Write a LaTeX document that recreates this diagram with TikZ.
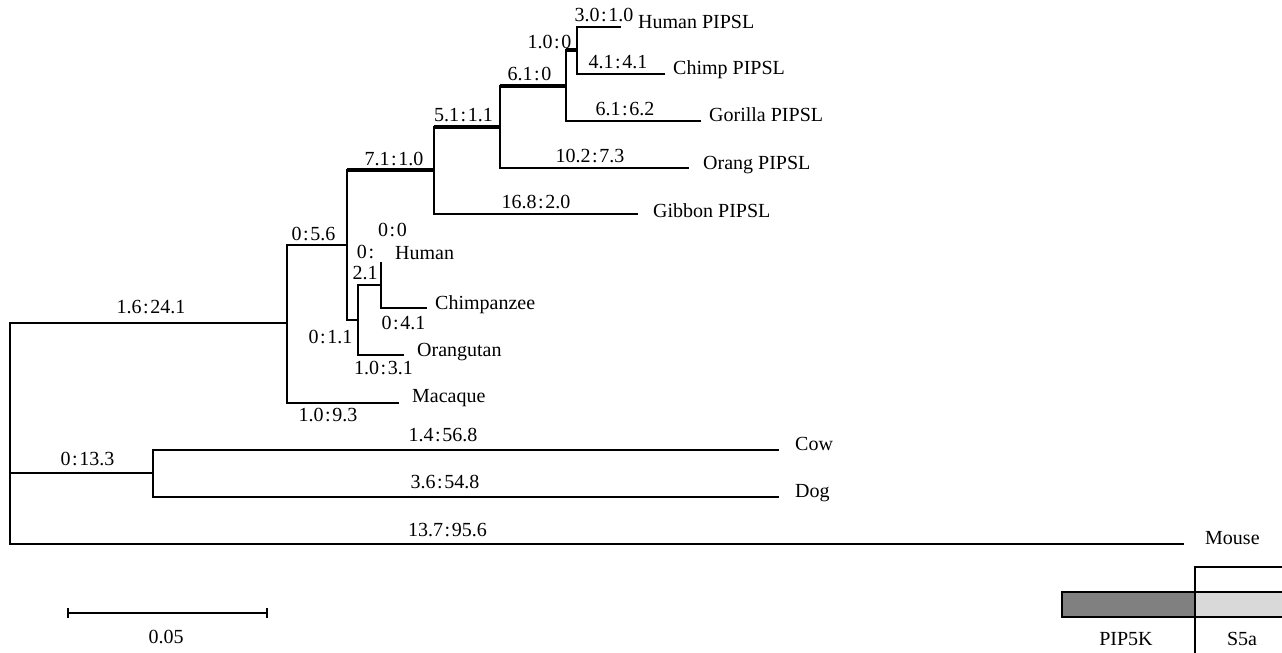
\documentclass[tikz,border=0pt]{standalone}
\usepackage{fontspec}
\setmainfont{Liberation Serif}
\newcommand{\rt}[2]{#1\kern1.6pt:\kern1.6pt#2}
\begin{document}
\begin{tikzpicture}[x=1pt,y=-1pt,
  br/.style={line width=1.5pt,line cap=rect},
  rootbr/.style={line width=2.1pt,line cap=rect},
  thickbr/.style={line width=4pt},
  lab/.style={inner sep=0pt,anchor=base,font=\fontsize{20}{24}\selectfont},
  taxon/.style={inner sep=0pt,anchor=base west,font=\fontsize{20}{24}\selectfont}]
\useasboundingbox (0,0) rectangle (1282,653);
% internal nodes and tips
\coordinate (R) at (10,323);
\coordinate (Pr) at (287,323);
\coordinate (CD) at (153,473);
\coordinate (MouseE) at (1183,544);
\coordinate (CowE) at (778,450);
\coordinate (DogE) at (778,497);
\coordinate (MacE) at (398,403);
\coordinate (A) at (347,245);
\coordinate (B) at (358,320);
\coordinate (C) at (381,285);
\coordinate (HumE) at (381,262);
\coordinate (ChzE) at (426,308);
\coordinate (OrgE) at (403,355);
\coordinate (P1) at (434,170);
\coordinate (GibE) at (637,214);
\coordinate (P2) at (500,127);
\coordinate (OrpE) at (688,168);
\coordinate (P3) at (566,86);
\coordinate (GorE) at (700,121);
\coordinate (P4) at (577,50);
\coordinate (HupE) at (620,27);
\coordinate (ChpE) at (664,74);
% root level
\draw[rootbr] (R |- Pr) -- (R |- MouseE);
\draw[rootbr] (R |- Pr) -- (Pr);
\draw[rootbr] (R |- CD) -- (CD);
\draw[rootbr] (R |- MouseE) -- (MouseE);
% cow / dog
\draw[br] (CD |- CowE) -- (CD |- DogE);
\draw[br] (CD |- CowE) -- (CowE);
\draw[br] (CD |- DogE) -- (DogE);
% primates
\draw[br] (Pr |- A) -- (Pr |- MacE);
\draw[br] (Pr |- A) -- (A);
\draw[br] (Pr |- MacE) -- (MacE);
\draw[br] (A |- P1) -- (A |- B);
\draw[br] (A |- B) -- (B);
\draw[br] (B |- C) -- (B |- OrgE);
\draw[br] (B |- C) -- (C);
\draw[br] (B |- OrgE) -- (OrgE);
\draw[line width=2.4pt] (HumE) -- (C);
\draw[br] (C) -- (C |- ChzE);
\draw[br] (C |- ChzE) -- (ChzE);
% PIPSL clade
\draw[thickbr] (A |- P1) -- (P1);
\draw[br] (P1 |- P2) -- (P1 |- GibE);
\draw[br] (P1 |- GibE) -- (GibE);
\draw[thickbr] (P1 |- P2) -- (P2);
\draw[br] (P2 |- P3) -- (P2 |- OrpE);
\draw[br] (P2 |- OrpE) -- (OrpE);
\draw[thickbr] (P2 |- P3) -- (P3);
\draw[br] (P3 |- P4) -- (P3 |- GorE);
\draw[br] (P3 |- GorE) -- (GorE);
\draw[thickbr] (P3 |- P4) -- (P4);
\draw[br] (P4 |- HupE) -- (P4 |- ChpE);
\draw[br] (P4 |- HupE) -- (HupE);
\draw[br] (P4 |- ChpE) -- (ChpE);
% branch labels
\node[lab] (l1) at (604,21) {\rt{3.0}{1.0}};
\node[lab] (l2) at (549.5,48) {\rt{1.0}{0}};
\node[lab] (l3) at (618,68) {\rt{4.1}{4.1}};
\node[lab] (l4) at (529.5,80) {\rt{6.1}{0}};
\node[lab] (l5) at (625,115) {\rt{6.1}{6.2}};
\node[lab] (l6) at (463.5,121) {\rt{5.1}{1.1}};
\node[lab] (l7) at (590,162) {\rt{10.2}{7.3}};
\node[lab] (l8) at (394,165) {\rt{7.1}{1.0}};
\node[lab] (l9) at (536,208) {\rt{16.8}{2.0}};
\node[lab] (l10) at (313.5,240) {\rt{0}{5.6}};
\node[lab] (l11) at (392.5,236) {\rt{0}{0}};
\node[lab] (l12) at (365.5,258) {0\kern1.6pt:};
\node[lab] (l13) at (365,279) {2.1};
\node[lab] (l14) at (403.5,329) {\rt{0}{4.1}};
\node[lab] (l15) at (330.5,343) {\rt{0}{1.1}};
\node[lab] (l16) at (383.5,374) {\rt{1.0}{3.1}};
\node[lab] (l17) at (328,421) {\rt{1.0}{9.3}};
\node[lab] (l18) at (151,313) {\rt{1.6}{24.1}};
\node[lab] (l19) at (87.5,465) {\rt{0}{13.3}};
\node[lab] (l20) at (443,441) {\rt{1.4}{56.8}};
\node[lab] (l21) at (445,488) {\rt{3.6}{54.8}};
\node[lab] (l22) at (447.5,536) {\rt{13.7}{95.6}};
% taxa
\node[taxon] (tHP) at (638,28) {Human PIPSL};
\node[taxon] (tCP) at (673,74) {Chimp PIPSL};
\node[taxon] (tGP) at (709,121) {Gorilla PIPSL};
\node[taxon] (tOP) at (703,169) {Orang PIPSL};
\node[taxon] (tBP) at (653,217) {Gibbon PIPSL};
\node[taxon] (tH) at (395,259) {Human};
\node[taxon] (tC) at (435,309) {Chimpanzee};
\node[taxon] (tO) at (417,356) {Orangutan};
\node[taxon] (tM) at (412,402) {Macaque};
\node[taxon] (tCow) at (795,450) {Cow};
\node[taxon] (tDog) at (795,497) {Dog};
\node[taxon] (tMouse) at (1205,544) {Mouse};
% scale bar
\coordinate (s1) at (68,613);
\coordinate (s2) at (267,613);
\draw[line width=1.3pt] (s1) -- (s2);
\draw[line width=1.3pt] ([yshift=-5pt]s1) -- ([yshift=5pt]s1);
\draw[line width=1.3pt] ([yshift=-5pt]s2) -- ([yshift=5pt]s2);
\node[lab] (sc) at (166,643) {0.05};
% legend
\fill[black!50] (1062,592) rectangle (1195,617);
\fill[black!15] (1195,592) rectangle (1282,617);
\draw[line width=1.3pt] (1282,592) -- (1062,592) -- (1062,617) -- (1282,617);
\draw[line width=1.3pt] (1195,653) -- (1195,567) -- (1282,567);
\node[lab] (g1) at (1126,645) {PIP5K};
\node[lab] (g2) at (1242,645) {S5a};
\end{tikzpicture}
\end{document}
